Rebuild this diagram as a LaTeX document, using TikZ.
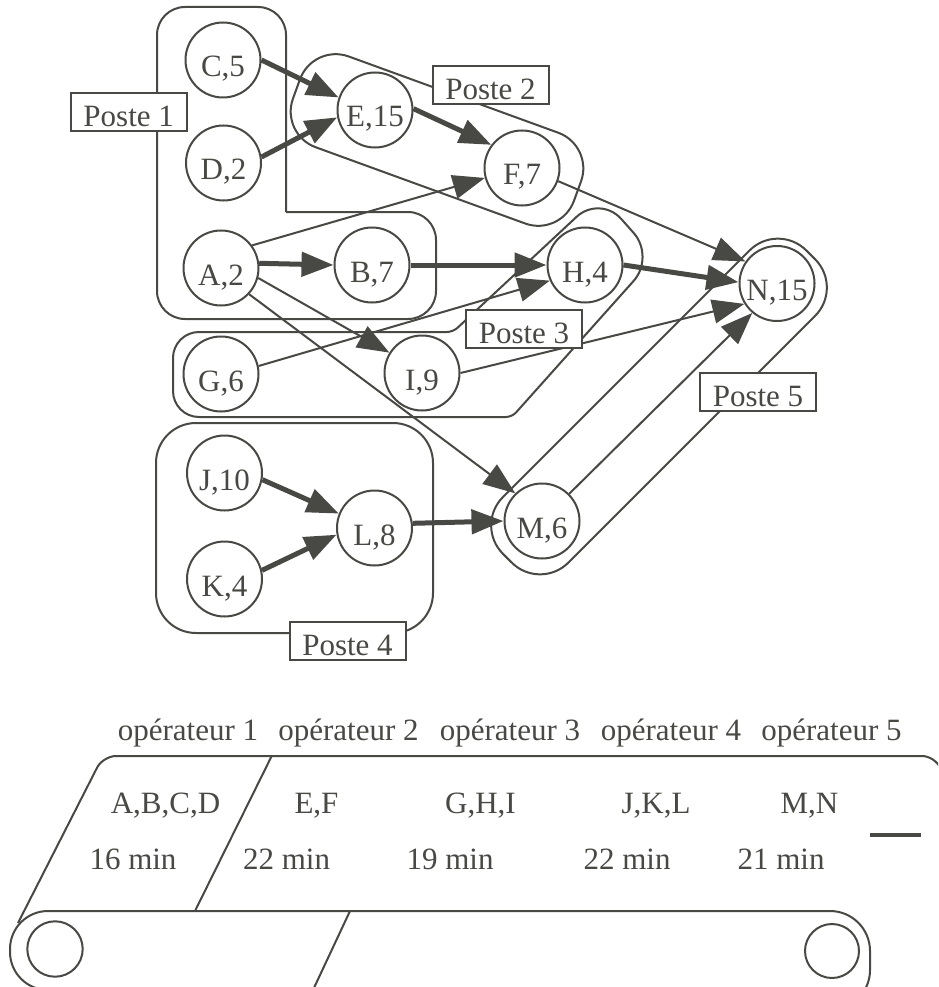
\documentclass[tikz,border=0pt]{standalone}
\usepackage{fontspec}
\setmainfont{Liberation Serif}
\usetikzlibrary{arrows.meta}
\definecolor{ink}{RGB}{72,72,68}

\begin{document}
\begin{tikzpicture}[x=1pt,y=-1pt,
  every node/.style={text=ink},
  task/.style={circle, draw=ink, line width=2pt, fill=white, minimum size=75pt,
    inner sep=0pt, font=\fontsize{31}{31}\selectfont, text height=34pt, text depth=0pt},
  poste/.style={draw=ink, line width=2pt, fill=white, minimum width=116pt,
    minimum height=38pt, inner sep=0pt, font=\fontsize{31}{31}\selectfont,
    text height=29.4pt, text depth=0pt},
  zone/.style={draw=ink, line width=2pt},
  heavy/.style={draw=ink, line width=5pt, -{Triangle[length=32pt,width=24pt]}},
  light/.style={draw=ink, line width=2pt, -{Triangle[length=32pt,width=24pt]}},
  belt/.style={draw=ink, line width=2pt},
  caption/.style={font=\fontsize{31}{31}\selectfont, anchor=base, inner sep=0pt},
]
\useasboundingbox (0,0) rectangle (938,987);
\fill[white] (0,0) rectangle (938,987);

% ---- workstation outlines ----
% Poste 1 (L-shaped)
\draw[zone, rounded corners=28pt] (286,212) -- (436,212) -- (436,319) -- (157,319)
  -- (157,7) -- (286,7) -- (286,212);
% Poste 2
\begin{scope}[shift={(437,140)}, rotate=-20]
  \draw[zone, rounded corners=38pt] (-149.5,-48.3) rectangle (149.5,48.3);
\end{scope}
% Poste 3 (drawn in pieces with different corner radii)
\draw[zone, rounded corners=26pt] (300,417) -- (173,417) -- (173,332) -- (300,332);
\draw[zone, rounded corners=6pt] (300,332) -- (453,332) -- (526.5,263.5);
\draw[zone, rounded corners=32pt] (526.5,263.5) -- (600,195) -- (655,257) -- (583.5,337);
\draw[zone, rounded corners=6pt] (583.5,337) -- (512,417) -- (300,417);
% Poste 4
\draw[zone, rounded corners=40pt] (156,423) rectangle (433,633);
% Poste 5
\begin{scope}[shift={(659,406.5)}, rotate=45]
  \draw[zone, rounded corners=40pt] (-214.5,-46.3) rectangle (214.5,46.3);
\end{scope}

% ---- tasks ----
\node[task] (C) at (223,60) {C,5};
\node[task] (D) at (223.5,163) {D,2};
\node[task] (E) at (375,110) {E,15};
\node[task] (F) at (522,168) {F,7};
\node[task] (A) at (221,268) {A,2};
\node[task] (B) at (372,265) {B,7};
\node[task] (H) at (585,265) {H,4};
\node[task] (N) at (777,283.5) {N,15};
\node[task] (G) at (221,374) {G,6};
\node[task] (I) at (422,373) {I,9};
\node[task] (J) at (224.5,473) {J,10};
\node[task] (K) at (224.5,579) {K,4};
\node[task] (L) at (374.5,528) {L,8};
\node[task] (M) at (542,521) {M,6};

% ---- precedences ----
\draw[heavy] (C.0) -- (E.161);
\draw[heavy] (D.9) -- (E.191);
\draw[heavy] (E.2) -- (F.143);
\draw[light] (A.36) -- (F.195);
\draw[heavy] (A.7) -- (B.180);
\draw[heavy] (B.0) -- (H.180);
\draw[light] (G.12) -- (H.204);
\draw[light] (A.-15) -- (I.148);
\draw[light] (A.-43) -- (M.134);
\draw[light] (I.0) -- (N.212);
\draw[light] (F.-20) -- (N.145);
\draw[heavy] (H.0) -- (N.178);
\draw[light] (M.45) -- (N.230);
\draw[heavy] (L.7) -- (M.180);
\draw[heavy] (J.-10) -- (L.158);
\draw[heavy] (K.13) -- (L.190);

% ---- workstation labels ----
\node[poste] (p1) at (128.7,112) {Poste 1};
\node[poste] (p2) at (490.5,85) {Poste 2};
\node[poste] (p3) at (524,328.5) {Poste 3};
\node[poste] (p4) at (347.5,640.5) {Poste 4};
\node[poste] (p5) at (758,392) {Poste 5};

% ---- assembly line ----
\node[caption] (o1) at (188,740.7) {opérateur 1};
\node[caption] (o2) at (348.5,740.7) {opérateur 2};
\node[caption] (o3) at (510,740.7) {opérateur 3};
\node[caption] (o4) at (671,740.7) {opérateur 4};
\node[caption] (o5) at (831.5,740.7) {opérateur 5};

\node[caption] (g1) at (165.5,813) {A,B,C,D};
\node[caption] (g2) at (316.5,813) {E,F};
\node[caption] (g3) at (480.5,813) {G,H,I};
\node[caption] (g4) at (656,813) {J,K,L};
\node[caption] (g5) at (809.5,813) {M,N};

\node[caption] (t1) at (133,869.3) {16 min};
\node[caption] (t2) at (286.5,869.3) {22 min};
\node[caption] (t3) at (450,869.3) {19 min};
\node[caption] (t4) at (627,869.3) {22 min};
\node[caption] (t5) at (781,869.3) {21 min};

\begin{scope}
  \clip (0,0) rectangle (938,987);
  % belt surface
  \draw[belt, rounded corners=13pt] (18,923) -- (103,756) -- (935,756) -- (950,790);
  % belt body around the rollers
  \draw[belt, rounded corners=38pt] (400,911) -- (10,911) -- (10,990) -- (400,990);
  \draw[belt, rounded corners=40pt] (400,911) -- (870,911) -- (870,1010) -- (400,1010);
  % rollers
  \draw[belt] (55,949) circle[radius=27.7pt];
  \draw[belt] (832,951) circle[radius=27pt];
  % section marks on the belt
  \draw[belt] (271.7,756) -- (195,911);
  \draw[belt] (350,911) -- (313,990);
  \draw[ink, line width=4pt] (870,835) -- (921,835);
\end{scope}
\end{tikzpicture}
\end{document}
